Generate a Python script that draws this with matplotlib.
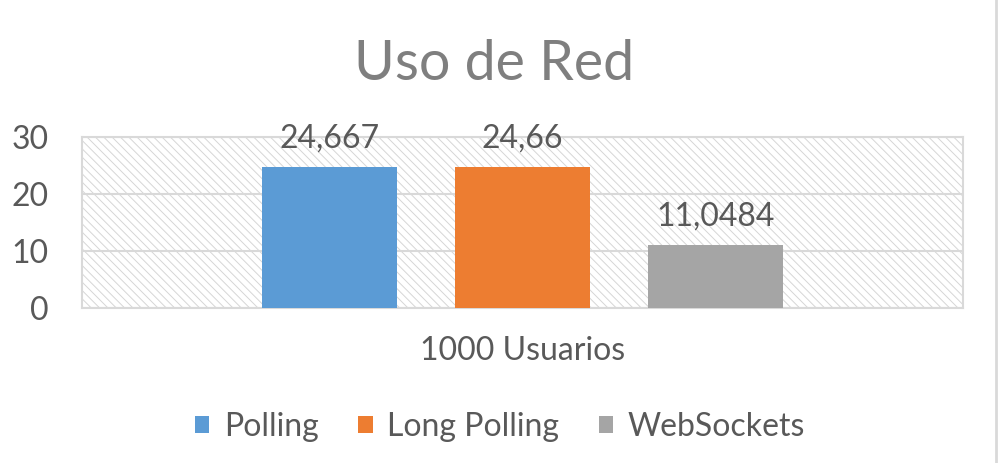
import matplotlib.pyplot as plt
from matplotlib.patches import Rectangle
from matplotlib.lines import Line2D

plt.rcParams['font.family'] = ['Lato', 'DejaVu Sans']
plt.rcParams['hatch.linewidth'] = 0.7

# data
category = "1000 Usuarios"
series = ["Polling", "Long Polling", "WebSockets"]
values = [24.667, 24.66, 11.0484]
value_labels = ["24,667", "24,66", "11,0484"]
colors = ["#5b9bd5", "#ed7d31", "#a5a5a5"]

TEXT = "#595959"
GRID = "#d9d9d9"
FS = 23

fig = plt.figure(figsize=(10.02, 4.63), dpi=100)
ax = fig.add_axes([82 / 1002, 155 / 463, 881 / 1002, 171 / 463])

# hatched plot area background
ax.add_patch(Rectangle((0, 0), 1, 1, transform=ax.transAxes, facecolor="white",
                       edgecolor="#d6d6d6", linewidth=0, hatch="\\\\\\\\", zorder=0))

offsets = [-0.219, 0.0, 0.219]
width = 0.1532
for off, v, lab, c, name in zip(offsets, values, value_labels, colors, series):
    ax.bar(off, v, width=width, color=c, label=name, zorder=3)
    ax.annotate(lab, (off, v), xytext=(0, 14), textcoords="offset points",
                ha="center", va="baseline", fontsize=FS, color=TEXT)

ax.set_xlim(-0.5, 0.5)
ax.set_ylim(0, 30)
ax.set_yticks([0, 10, 20, 30])
ax.set_xticks([0])
ax.set_xticklabels([category])
ax.tick_params(axis="y", length=0, pad=24, labelsize=FS, labelcolor=TEXT)
ax.tick_params(axis="x", length=0, pad=20, labelsize=FS, labelcolor=TEXT)
ax.grid(axis="y", color=GRID, linewidth=1.5, zorder=1)
for s in ax.spines.values():
    s.set_color(GRID)
    s.set_linewidth(1.5)

fig.suptitle("Uso de Red", x=494 / 1002, y=1 - 80 / 463, va="baseline",
             fontsize=40, color="#7f7f7f")

fig.legend(loc="center", bbox_to_anchor=(500 / 1002, 1 - 427 / 463), ncol=3,
           frameon=False, fontsize=FS, handlelength=0.45, handleheight=0.45,
           handletextpad=0.45, columnspacing=1.25, labelcolor=TEXT)

fig.add_artist(Line2D([996 / 1002, 996 / 1002], [0, 1], color=GRID, linewidth=2))

fig.savefig("out.png", dpi=100)
